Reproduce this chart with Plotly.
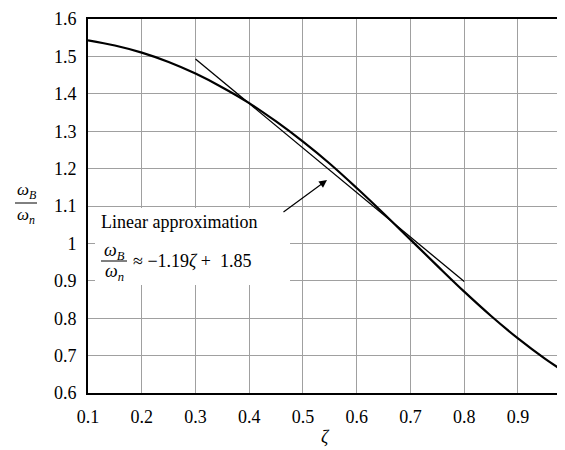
import plotly.graph_objects as go

# Data
zeta = [0.10, 0.15, 0.20, 0.25, 0.30, 0.35, 0.40, 0.45, 0.50, 0.55, 0.60,
        0.65, 0.70, 0.75, 0.80, 0.85, 0.90, 0.95, 1.00]
bw_ratio = [1.543, 1.529, 1.510, 1.485, 1.454, 1.417, 1.375, 1.326, 1.272, 1.213, 1.148,
            1.080, 1.010, 0.940, 0.871, 0.806, 0.746, 0.692, 0.644]
approx_zeta = [0.3, 0.8]
approx_vals = [1.493, 0.898]
x_ticks = [0.1, 0.2, 0.3, 0.4, 0.5, 0.6, 0.7, 0.8, 0.9]
x_tick_labels = ["0.1", "0.2", "0.3", "0.4", "0.5", "0.6", "0.7", "0.8", "0.9"]
y_ticks = [0.6, 0.7, 0.8, 0.9, 1.0, 1.1, 1.2, 1.3, 1.4, 1.5, 1.6]
y_tick_labels = ["0.6", "0.7", "0.8", "0.9", "1", "1.1", "1.2", "1.3", "1.4", "1.5", "1.6"]

FONT = "Liberation Serif"
OFF = 8  # page body margin
# desired window-pixel positions of plot area
PL, PT, PR, PB = 88, 19, 565, 393
W, H = 557, 442
L, T = PL - OFF, PT - OFF
R = W - (PR - OFF)
B = H - (PB - OFF)
pw, ph = PR - PL, PB - PT

def px(x):
    return (x - PL) / pw

def py(y):
    return (PB - y) / ph

fig = go.Figure()
fig.add_trace(go.Scatter(x=approx_zeta, y=approx_vals, mode="lines",
                         line=dict(color="black", width=1.3), showlegend=False))
fig.add_trace(go.Scatter(x=zeta, y=bw_ratio, mode="lines",
                         line=dict(color="black", width=2.2, shape="spline"), showlegend=False))

# white box behind annotation text
fig.add_shape(type="rect", xref="paper", yref="paper",
              x0=px(95), x1=px(290), y0=py(285), y1=py(208),
              fillcolor="white", line=dict(width=0), layer="above")
# fraction bar in the equation
fig.add_shape(type="line", xref="paper", yref="paper",
              x0=px(101), x1=px(127), y0=py(261), y1=py(261),
              line=dict(color="black", width=1), layer="above")
# y title fraction bar
fig.add_shape(type="line", xref="paper", yref="paper",
              x0=px(15), x1=px(37), y0=py(203), y1=py(203),
              line=dict(color="black", width=1))

annos = [
    dict(text="Linear approximation", x=px(99), y=py(222), xanchor="left", size=18),
    dict(text="<i>ω<sub>B</sub></i>", x=px(114), y=py(251), xanchor="center", size=18),
    dict(text="<i>ω<sub>n</sub></i>", x=px(114), y=py(272), xanchor="center", size=18),
    dict(text="≈ −1.19<i>ζ</i> +  1.85", x=px(131), y=py(261), xanchor="left", size=18),
    dict(text="<i>ω<sub>B</sub></i>", x=px(26), y=py(191), xanchor="center", size=17),
    dict(text="<i>ω<sub>n</sub></i>", x=px(26), y=py(216), xanchor="center", size=17),
    dict(text="<i>ζ</i>", x=px(325), y=py(437), xanchor="center", size=18),
]
for a in annos:
    fig.add_annotation(text=a["text"], x=a["x"], y=a["y"], xref="paper", yref="paper",
                       xanchor=a["xanchor"], yanchor="middle", showarrow=False,
                       font=dict(family=FONT, size=a["size"], color="black"))

# arrow
fig.add_annotation(x=px(327), y=py(180), ax=282 - 327, ay=213 - 180,
                   xref="paper", yref="paper", axref="pixel", ayref="pixel",
                   text="", showarrow=True, arrowhead=2, arrowsize=1.3,
                   arrowwidth=1.2, arrowcolor="black")

fig.update_layout(
    width=W, height=H,
    margin=dict(l=L, r=R, t=T, b=B),
    paper_bgcolor="white", plot_bgcolor="white",
    font=dict(family=FONT, size=18, color="black"),
    xaxis=dict(range=[0.1, 0.9875], tickvals=x_ticks, ticktext=x_tick_labels,
               showgrid=True, gridcolor="#a0a0a0", gridwidth=1.2,
               showline=True, linecolor="black", linewidth=2, mirror=True,
               zeroline=False, ticks="", ticklabelstandoff=6,
               tickfont=dict(family=FONT, size=18, color="black")),
    yaxis=dict(range=[0.6, 1.6], tickvals=y_ticks, ticktext=y_tick_labels,
               showgrid=True, gridcolor="#a0a0a0", gridwidth=1.2,
               showline=True, linecolor="black", linewidth=2,
               zeroline=False, ticks="", ticklabelstandoff=6,
               tickfont=dict(family=FONT, size=18, color="black")),
)

fig.write_html("out.html")
